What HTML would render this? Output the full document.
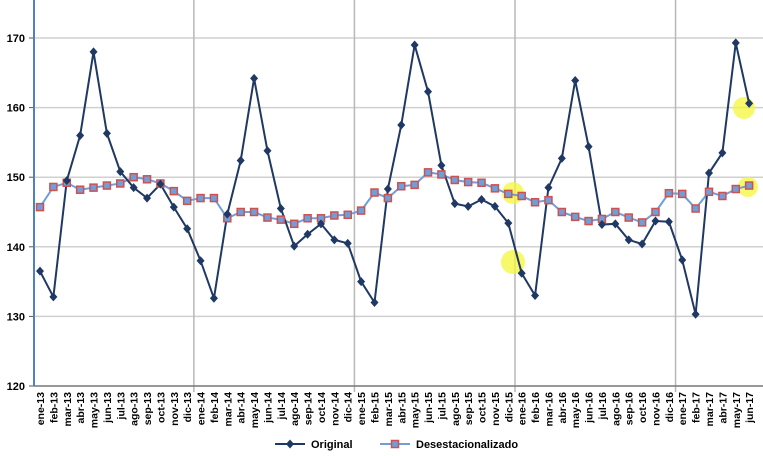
<!DOCTYPE html><html><head><meta charset="utf-8"><style>body{margin:0;background:#fff}svg{display:block;font-family:"Liberation Sans",sans-serif}</style></head><body>
<svg id="c" width="763" height="456" xmlns="http://www.w3.org/2000/svg"></svg>
<script>
const O=[136.5,132.8,149.5,156,168,156.3,150.8,148.5,147,149,145.7,142.6,138,132.6,144.7,152.4,164.2,153.8,145.5,140.1,141.8,143.3,141,140.5,135,132,148.3,157.5,169,162.3,151.7,146.2,145.8,146.8,145.8,143.4,136.2,133,148.5,152.7,163.9,154.4,143.2,143.3,141,140.4,143.7,143.6,138.1,130.3,150.6,153.5,169.3,160.6];
const D=[145.7,148.6,149.2,148.2,148.5,148.8,149.1,150,149.7,149.1,148,146.6,147,147,144.1,145,145,144.2,143.9,143.3,144.1,144.1,144.5,144.6,145.2,147.8,147,148.7,148.9,150.7,150.4,149.6,149.3,149.2,148.4,147.6,147.3,146.4,146.7,145,144.3,143.7,144,145,144.2,143.5,145,147.7,147.6,145.5,147.9,147.3,148.3,148.8];
const M=["ene","feb","mar","abr","may","jun","jul","ago","sep","oct","nov","dic"];
const X=i=>40+i*13.38, Y=v=>386-(v-120)*6.96;
let s='';
for(let v=130;v<=170;v+=10)s+=`<line x1="34" x2="763" y1="${Y(v)}" y2="${Y(v)}" stroke="#d0d0d0" stroke-width="1.5"/>`;
for(let k=1;k<=4;k++){let x=X(12*k-0.5);s+=`<line x1="${x}" x2="${x}" y1="0" y2="392" stroke="#b8b8b8" stroke-width="1.5"/>`;}
for(let v=120;v<=170;v+=10)s+=`<line x1="29" x2="34" y1="${Y(v)}" y2="${Y(v)}" stroke="#555"/><text x="25" y="${Y(v)+4}" text-anchor="end" font-size="11" font-weight="bold">${v}</text>`;
s+=`<line x1="34" x2="34" y1="0" y2="386" stroke="#4f81bd" stroke-width="2"/><line x1="34" x2="763" y1="386" y2="386" stroke="#777" stroke-width="1.5"/>`;
[[513,193,11],[513,262,12],[744,108,11],[748,187,10]].forEach(a=>s+=`<circle cx="${a[0]}" cy="${a[1]}" r="${a[2]}" fill="#f5f53a" opacity="0.75"/>`);
for(let i=0;i<54;i++){let x=X(i);s+=`<text transform="translate(${x+4},392) rotate(-90)" text-anchor="end" font-size="10.5" font-weight="bold">${M[i%12]}-${13+Math.floor(i/12)}</text>`;}
s+=`<polyline fill="none" stroke="#6f9fd8" stroke-width="2" points="${D.map((v,i)=>X(i)+','+Y(v)).join(' ')}"/>`;
s+=`<polyline fill="none" stroke="#1f3864" stroke-width="2" points="${O.map((v,i)=>X(i)+','+Y(v)).join(' ')}"/>`;
D.forEach((v,i)=>s+=`<rect x="${X(i)-3.5}" y="${Y(v)-3.5}" width="7" height="7" fill="#6f9fd8" stroke="#d05050" stroke-width="1.5"/>`);
O.forEach((v,i)=>s+=`<path d="M${X(i)} ${Y(v)-4.5}l4 4.5-4 4.5-4-4.5z" fill="#1f3864"/>`);
s+=`<line x1="275" x2="305" y1="444" y2="444" stroke="#1f3864" stroke-width="2"/><path d="M290 439.5l4 4.5-4 4.5-4-4.5z" fill="#1f3864"/><text x="311" y="448" font-size="11" font-weight="bold">Original</text>`;
s+=`<line x1="380" x2="410" y1="444" y2="444" stroke="#6f9fd8" stroke-width="2"/><rect x="391.5" y="440.5" width="7" height="7" fill="#6f9fd8" stroke="#d05050" stroke-width="1.5"/><text x="416" y="448" font-size="11" font-weight="bold">Desestacionalizado</text>`;
document.getElementById('c').innerHTML=s;
</script></body></html>
